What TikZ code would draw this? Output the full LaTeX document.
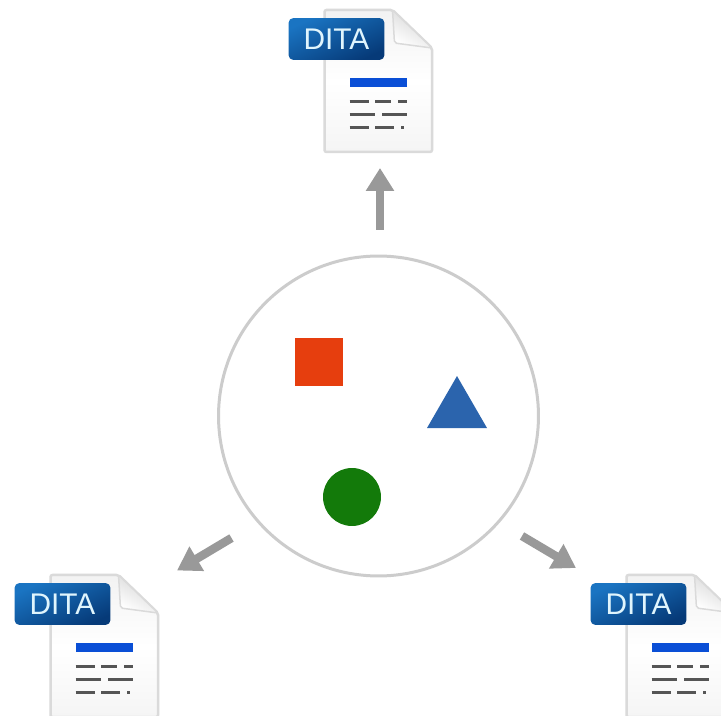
\documentclass[tikz,border=0pt]{standalone}
\usepackage{fontspec}
\setmainfont{Liberation Sans}
\usetikzlibrary{arrows.meta,shapes.geometric}
\definecolor{arrowgray}{HTML}{999999}
\definecolor{ringgray}{HTML}{CCCCCC}
\definecolor{edgegray}{HTML}{DADADA}
\definecolor{dashgray}{HTML}{555555}
\definecolor{barblue}{HTML}{0A4FD6}
\definecolor{badgelight}{HTML}{1A74C2}
\definecolor{badgedark}{HTML}{063A78}
\tikzset{
	flow/.style={-{Triangle[length=0.46cm, width=0.54cm]}, line width=0.17cm, arrowgray},
	badge/.style={rounded corners=0.1cm, minimum width=1.92cm, minimum height=0.84cm, inner sep=0pt, text=white!88!cyan,
		left color=badgelight, right color=badgedark, shading angle=25, font=\fontsize{17}{18}\selectfont},
	textline/.style={line width=0.07cm, dashgray},
	ditadoc/.pic={
		\draw[edgegray, line width=0.05cm, rounded corners=0.04cm, top color=gray!10, bottom color=gray!8, middle color=white] (0, 0) -- (68, 0) -- (107.5, 38) -- (107.5, 142) -- (0, 142) -- cycle;
		\draw[edgegray, line width=0.03cm, rounded corners=0.04cm, left color=gray!35, right color=white, shading angle=-30] (68, 0) -- (70, 33) -- (107.5, 38) -- cycle;
		\node[badge] (-badge) at (12, 29) {DITA};
		\fill[barblue] (25, 68) rectangle (82.5, 77);
		% text lines
		\draw[textline] (25, 91.5) -- (44, 91.5);
		\draw[textline] (50.5, 91.5) -- (66.5, 91.5);
		\draw[textline] (73.5, 91.5) -- (82.5, 91.5);
		\draw[textline] (25, 104.5) -- (50, 104.5);
		\draw[textline] (57.5, 104.5) -- (82.5, 104.5);
		\draw[textline] (25, 117.5) -- (44, 117.5);
		\draw[textline] (50.5, 117.5) -- (69.5, 117.5);
		\draw[textline] (76.5, 117.5) -- (79.5, 117.5);
	}
}
\begin{document}
\begin{tikzpicture}[x=0.02cm, y=-0.02cm]
	\fill[white] (0, 0) rectangle (721, 716);
	\clip (0, 0) rectangle (721, 716);
	% Shapes in the ring
	\node[draw=ringgray, line width=0.06cm, circle, minimum size=6.4cm, inner sep=0pt] (ring) at (378.5, 416) {};
	\node[fill={rgb,255:red,230;green,62;blue,14}, minimum size=0.96cm, inner sep=0pt] (square) at (319, 362) {};
	\node[fill={rgb,255:red,43;green,100;blue,173}, regular polygon, regular polygon sides=3, minimum size=1.386cm, inner sep=0pt] (triangle) at (457, 410.7) {};
	\node[fill={rgb,255:red,19;green,122;blue,10}, circle, minimum size=1.16cm, inner sep=0pt] (disc) at (352, 497) {};

	% Documents
	\pic (doctop) at (324.5, 10) {ditadoc};
	\pic (docleft) at (50.5, 575) {ditadoc};
	\pic (docright) at (626.5, 575) {ditadoc};

	% Arrows
	\coordinate (toptail) at (380, 230);
	\coordinate (tophead) at (380, 168);
	\coordinate (lefttail) at (231.5, 538);
	\coordinate (lefthead) at (177, 570.5);
	\coordinate (righttail) at (522, 536);
	\coordinate (righthead) at (576, 568);
	\draw[flow] (toptail) -- (tophead);
	\draw[flow] (lefttail) -- (lefthead);
	\draw[flow] (righttail) -- (righthead);
\end{tikzpicture}
\end{document}
